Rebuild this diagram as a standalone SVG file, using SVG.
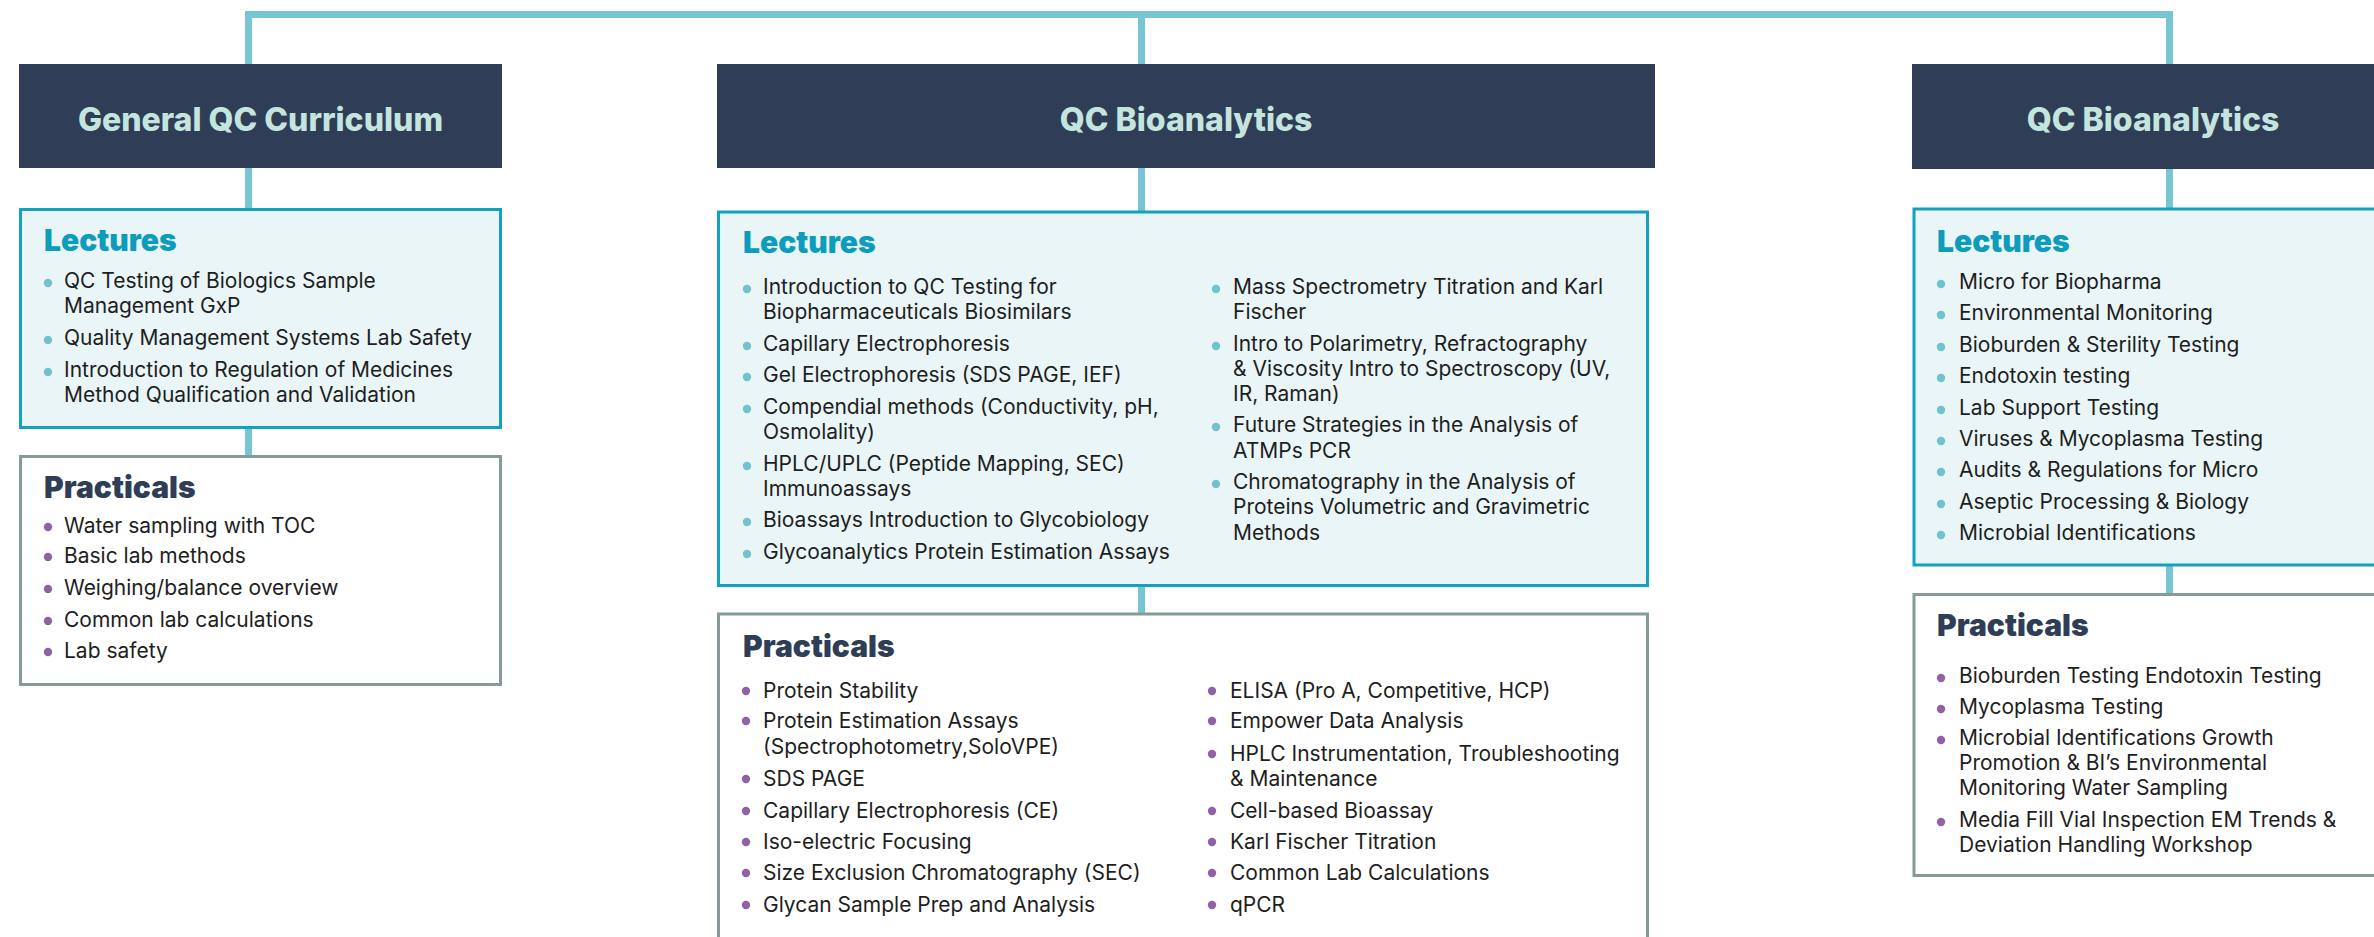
<svg xmlns="http://www.w3.org/2000/svg" width="2374" height="937" viewBox="0 0 2374 937">
<style>
.hdr{fill:#2f3d57}
.ttl{font-family:Inter,"Liberation Sans",sans-serif;font-weight:800;font-size:32px;fill:#c4e5de;text-anchor:middle}
.lec{fill:#e9f5f7;stroke:#12a1be;stroke-width:3}
.prc{fill:#ffffff;stroke:#869a9a;stroke-width:3}
.lh{font-family:Inter,"Liberation Sans",sans-serif;font-weight:900;font-size:30px;fill:#0d9cba}
.ph{font-family:Inter,"Liberation Sans",sans-serif;font-weight:900;font-size:30px;fill:#2f3d57}
.t{font-family:Inter,"Liberation Sans",sans-serif;font-size:21px;fill:#1e1e1e}
.bl{fill:#6ec3cf}
.bp{fill:#8f62a8}
.con{fill:none;stroke:#76c7d3;stroke-width:7;stroke-linejoin:miter}
</style>
<g id="connectors">
<polyline class="con" points="248.5,64 248.5,14.5 2169.5,14.5 2169.5,64"/>
<line class="con" x1="1141.5" y1="14.5" x2="1141.5" y2="64"/>
<line class="con" x1="248.5" y1="168" x2="248.5" y2="209"/>
<line class="con" x1="248.5" y1="428" x2="248.5" y2="456"/>
<line class="con" x1="1141.5" y1="168" x2="1141.5" y2="212"/>
<line class="con" x1="1141.5" y1="586" x2="1141.5" y2="614"/>
<line class="con" x1="2169.5" y1="168" x2="2169.5" y2="209"/>
<line class="con" x1="2169.5" y1="565" x2="2169.5" y2="594"/>
</g>
<g id="header-general">
<rect class="hdr" x="19" y="64" width="483" height="104"/>
<text class="ttl" x="260.5" y="131">General QC Curriculum</text>
</g>
<g id="header-bioanalytics">
<rect class="hdr" x="717" y="64" width="938" height="104"/>
<text class="ttl" x="1186" y="131">QC Bioanalytics</text>
</g>
<g id="header-micro">
<rect class="hdr" x="1912" y="64" width="482" height="105"/>
<text class="ttl" x="2153" y="131">QC Bioanalytics</text>
</g>
<g id="lectures-general">
<rect class="lec" x="20.5" y="209.5" width="480" height="218"/>
<text class="lh" x="44" y="251">Lectures</text>
<circle class="bl" cx="48" cy="283" r="4.2"/>
<text class="t" x="64" y="288">QC Testing of Biologics Sample</text>
<text class="t" x="64" y="313">Management GxP</text>
<circle class="bl" cx="48" cy="340" r="4.2"/>
<text class="t" x="64" y="345">Quality Management Systems Lab Safety</text>
<circle class="bl" cx="48" cy="372" r="4.2"/>
<text class="t" x="64" y="377">Introduction to Regulation of Medicines</text>
<text class="t" x="64" y="402">Method Qualification and Validation</text>
</g>
<g id="practicals-general">
<rect class="prc" x="20.5" y="456.5" width="480" height="228"/>
<text class="ph" x="44" y="498">Practicals</text>
<circle class="bp" cx="48" cy="527" r="4.2"/>
<text class="t" x="64" y="533">Water sampling with TOC</text>
<circle class="bp" cx="48" cy="557" r="4.2"/>
<text class="t" x="64" y="563">Basic lab methods</text>
<circle class="bp" cx="48" cy="589" r="4.2"/>
<text class="t" x="64" y="595">Weighing/balance overview</text>
<circle class="bp" cx="48" cy="621" r="4.2"/>
<text class="t" x="64" y="627">Common lab calculations</text>
<circle class="bp" cx="48" cy="652" r="4.2"/>
<text class="t" x="64" y="658">Lab safety</text>
</g>
<g id="lectures-bioanalytics">
<rect class="lec" x="718.5" y="212" width="929" height="373.5"/>
<text class="lh" x="743" y="253">Lectures</text>
<circle class="bl" cx="747" cy="289" r="4.2"/>
<text class="t" x="763" y="294">Introduction to QC Testing for</text>
<text class="t" x="763" y="319">Biopharmaceuticals Biosimilars</text>
<circle class="bl" cx="747" cy="346" r="4.2"/>
<text class="t" x="763" y="351">Capillary Electrophoresis</text>
<circle class="bl" cx="747" cy="377" r="4.2"/>
<text class="t" x="763" y="382">Gel Electrophoresis (SDS PAGE, IEF)</text>
<circle class="bl" cx="747" cy="409" r="4.2"/>
<text class="t" x="763" y="414">Compendial methods (Conductivity, pH,</text>
<text class="t" x="763" y="439">Osmolality)</text>
<circle class="bl" cx="747" cy="466" r="4.2"/>
<text class="t" x="763" y="471">HPLC/UPLC (Peptide Mapping, SEC)</text>
<text class="t" x="763" y="496">Immunoassays</text>
<circle class="bl" cx="747" cy="522" r="4.2"/>
<text class="t" x="763" y="527">Bioassays Introduction to Glycobiology</text>
<circle class="bl" cx="747" cy="554" r="4.2"/>
<text class="t" x="763" y="559">Glycoanalytics Protein Estimation Assays</text>
<circle class="bl" cx="1216" cy="289" r="4.2"/>
<text class="t" x="1233" y="294">Mass Spectrometry Titration and Karl</text>
<text class="t" x="1233" y="319">Fischer</text>
<circle class="bl" cx="1216" cy="346" r="4.2"/>
<text class="t" x="1233" y="351">Intro to Polarimetry, Refractography</text>
<text class="t" x="1233" y="376">&amp; Viscosity Intro to Spectroscopy (UV,</text>
<text class="t" x="1233" y="401">IR, Raman)</text>
<circle class="bl" cx="1216" cy="427" r="4.2"/>
<text class="t" x="1233" y="432">Future Strategies in the Analysis of</text>
<text class="t" x="1233" y="458">ATMPs PCR</text>
<circle class="bl" cx="1216" cy="484" r="4.2"/>
<text class="t" x="1233" y="489">Chromatography in the Analysis of</text>
<text class="t" x="1233" y="514">Proteins Volumetric and Gravimetric</text>
<text class="t" x="1233" y="540">Methods</text>
</g>
<g id="practicals-bioanalytics">
<rect class="prc" x="718.5" y="614" width="929" height="400"/>
<text class="ph" x="743" y="657">Practicals</text>
<circle class="bp" cx="746" cy="691" r="4.2"/>
<text class="t" x="763" y="698">Protein Stability</text>
<circle class="bp" cx="746" cy="721" r="4.2"/>
<text class="t" x="763" y="728">Protein Estimation Assays</text>
<text class="t" x="763" y="754">(Spectrophotometry,SoloVPE)</text>
<circle class="bp" cx="746" cy="779" r="4.2"/>
<text class="t" x="763" y="786">SDS PAGE</text>
<circle class="bp" cx="746" cy="811" r="4.2"/>
<text class="t" x="763" y="818">Capillary Electrophoresis (CE)</text>
<circle class="bp" cx="746" cy="842" r="4.2"/>
<text class="t" x="763" y="849">Iso-electric Focusing</text>
<circle class="bp" cx="746" cy="873" r="4.2"/>
<text class="t" x="763" y="880">Size Exclusion Chromatography (SEC)</text>
<circle class="bp" cx="746" cy="905" r="4.2"/>
<text class="t" x="763" y="912">Glycan Sample Prep and Analysis</text>
<circle class="bp" cx="1212" cy="691" r="4.2"/>
<text class="t" x="1230" y="698">ELISA (Pro A, Competitive, HCP)</text>
<circle class="bp" cx="1212" cy="721" r="4.2"/>
<text class="t" x="1230" y="728">Empower Data Analysis</text>
<circle class="bp" cx="1212" cy="754" r="4.2"/>
<text class="t" x="1230" y="761">HPLC Instrumentation, Troubleshooting</text>
<text class="t" x="1230" y="786">&amp; Maintenance</text>
<circle class="bp" cx="1212" cy="811" r="4.2"/>
<text class="t" x="1230" y="818">Cell-based Bioassay</text>
<circle class="bp" cx="1212" cy="842" r="4.2"/>
<text class="t" x="1230" y="849">Karl Fischer Titration</text>
<circle class="bp" cx="1212" cy="873" r="4.2"/>
<text class="t" x="1230" y="880">Common Lab Calculations</text>
<circle class="bp" cx="1212" cy="905" r="4.2"/>
<text class="t" x="1230" y="912">qPCR</text>
</g>
<g id="lectures-micro">
<rect class="lec" x="1914" y="209" width="480" height="356"/>
<text class="lh" x="1937" y="252">Lectures</text>
<circle class="bl" cx="1941" cy="284" r="4.2"/>
<text class="t" x="1959" y="289">Micro for Biopharma</text>
<circle class="bl" cx="1941" cy="315" r="4.2"/>
<text class="t" x="1959" y="320">Environmental Monitoring</text>
<circle class="bl" cx="1941" cy="347" r="4.2"/>
<text class="t" x="1959" y="352">Bioburden &amp; Sterility Testing</text>
<circle class="bl" cx="1941" cy="378" r="4.2"/>
<text class="t" x="1959" y="383">Endotoxin testing</text>
<circle class="bl" cx="1941" cy="410" r="4.2"/>
<text class="t" x="1959" y="415">Lab Support Testing</text>
<circle class="bl" cx="1941" cy="441" r="4.2"/>
<text class="t" x="1959" y="446">Viruses &amp; Mycoplasma Testing</text>
<circle class="bl" cx="1941" cy="472" r="4.2"/>
<text class="t" x="1959" y="477">Audits &amp; Regulations for Micro</text>
<circle class="bl" cx="1941" cy="504" r="4.2"/>
<text class="t" x="1959" y="509">Aseptic Processing &amp; Biology</text>
<circle class="bl" cx="1941" cy="535" r="4.2"/>
<text class="t" x="1959" y="540">Microbial Identifications</text>
</g>
<g id="practicals-micro">
<rect class="prc" x="1914" y="594.5" width="480" height="281"/>
<text class="ph" x="1937" y="636">Practicals</text>
<circle class="bp" cx="1941" cy="678" r="4.2"/>
<text class="t" x="1959" y="683">Bioburden Testing Endotoxin Testing</text>
<circle class="bp" cx="1941" cy="709" r="4.2"/>
<text class="t" x="1959" y="714">Mycoplasma Testing</text>
<circle class="bp" cx="1941" cy="740" r="4.2"/>
<text class="t" x="1959" y="745">Microbial Identifications Growth</text>
<text class="t" x="1959" y="770">Promotion &amp; BI’s Environmental</text>
<text class="t" x="1959" y="795">Monitoring Water Sampling</text>
<circle class="bp" cx="1941" cy="822" r="4.2"/>
<text class="t" x="1959" y="827">Media Fill Vial Inspection EM Trends &amp;</text>
<text class="t" x="1959" y="852">Deviation Handling Workshop</text>
</g>
</svg>
